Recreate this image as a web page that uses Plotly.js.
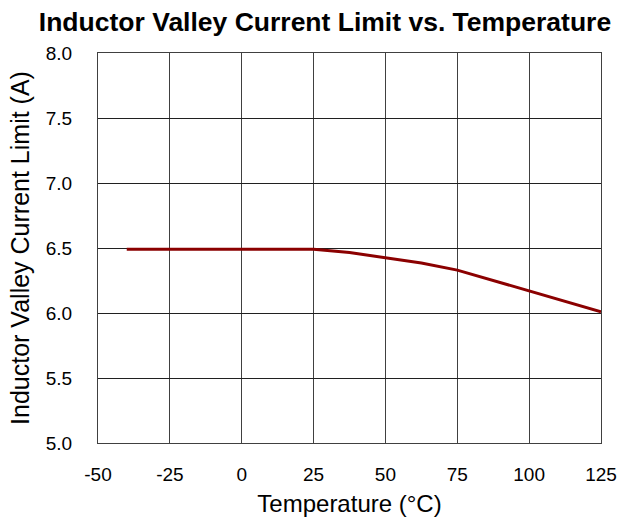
<!DOCTYPE html>
<html>
<head>
<meta charset="utf-8">
<script src="https://cdn.plot.ly/plotly-3.0.1.min.js"></script>
<style>
  html, body { margin: 0; padding: 0; background: #fff; }
  #chart { width: 638px; height: 523px; }
</style>
</head>
<body>
<div id="chart"></div>
<script>
// Inductor valley current limit across junction temperature
const temperatureC = [-40, -25, 0, 25, 37.5, 50, 62.5, 75, 87.5, 100, 112.5, 125];
const valleyLimitA = [6.49, 6.49, 6.49, 6.49, 6.465, 6.425, 6.385, 6.33, 6.25, 6.165, 6.09, 6.01];

const xTicks = [-50, -25, 0, 25, 50, 75, 100, 125];
const yTicks = [5.0, 5.5, 6.0, 6.5, 7.0, 7.5, 8.0];
const yTickText = ['5.0', '5.5', '6.0', '6.5', '7.0', '7.5', '8.0'];

const fontFamily = '"Liberation Sans", Arial, sans-serif';

const trace = {
  x: temperatureC,
  y: valleyLimitA,
  type: 'scatter',
  mode: 'lines',
  line: { color: '#8b0000', width: 3, shape: 'linear' },
  hoverinfo: 'x+y'
};

const layout = {
  width: 638,
  height: 523,
  margin: { l: 98, r: 37, t: 53, b: 80 },
  paper_bgcolor: '#ffffff',
  plot_bgcolor: '#ffffff',
  showlegend: false,
  font: { family: fontFamily, color: '#000' },
  title: {
    text: '<b>Inductor Valley Current Limit vs. Temperature</b>',
    font: { family: fontFamily, size: 26.5, color: '#000' },
    xref: 'container', x: 325 / 638, xanchor: 'center',
    yref: 'container', y: 1 - 22 / 523, yanchor: 'middle'
  },
  xaxis: {
    range: [-50, 125],
    tickvals: xTicks,
    ticktext: xTicks.map(String),
    showgrid: true,
    gridcolor: '#404040',
    gridwidth: 1,
    zeroline: false,
    showline: true,
    linecolor: '#404040',
    linewidth: 1,
    mirror: true,
    ticks: 'outside',
    ticklen: 14,
    tickcolor: 'rgba(0,0,0,0)',
    tickfont: { family: fontFamily, size: 19, color: '#000' },
    title: {
      text: 'Temperature (°C)',
      font: { family: fontFamily, size: 24, color: '#000' },
      standoff: 11
    }
  },
  yaxis: {
    range: [5.0, 8.0],
    tickvals: yTicks,
    ticktext: yTickText,
    showgrid: true,
    gridcolor: '#202020',
    gridwidth: 1,
    zeroline: false,
    showline: true,
    linecolor: '#404040',
    linewidth: 1,
    mirror: true,
    ticks: 'outside',
    ticklen: 21,
    tickcolor: 'rgba(0,0,0,0)',
    tickfont: { family: fontFamily, size: 19, color: '#000' },
    title: {
      text: 'Inductor Valley Current Limit (A)',
      font: { family: fontFamily, size: 25, color: '#000' },
      standoff: 9
    }
  }
};

Plotly.newPlot('chart', [trace], layout, { displayModeBar: false, staticPlot: true });
</script>
</body>
</html>
